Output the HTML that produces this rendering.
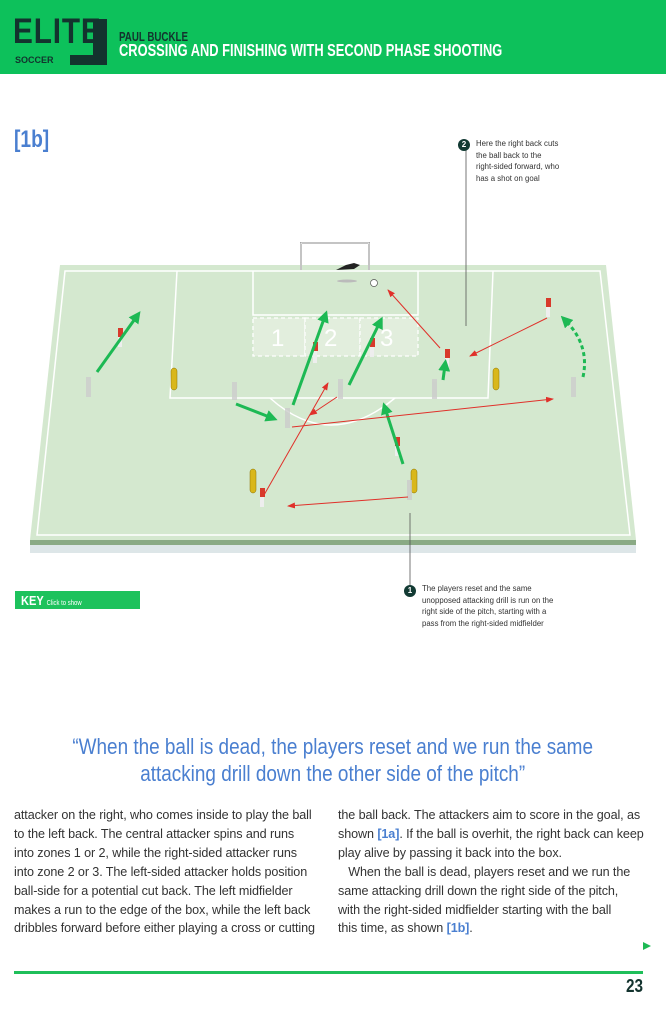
<!DOCTYPE html>
<html><head><meta charset="utf-8"><style>
*{margin:0;padding:0;box-sizing:border-box}
body{width:666px;height:1024px;background:#fff;position:relative;overflow:hidden;font-family:"Liberation Sans",sans-serif}
.hdr{position:absolute;left:0;top:0;width:666px;height:74px;background:#0dc15b}
.cond{font-family:"Liberation Sans Narrow","Liberation Sans",sans-serif;font-weight:bold}
.abs{position:absolute}
.txt{position:absolute;font-size:12.6px;line-height:18.9px;color:#333;letter-spacing:-0.1px}
.note{position:absolute;font-size:7.8px;line-height:11.6px;color:#333}
.num{position:absolute;width:12px;height:12px;border-radius:50%;background:#123a33;color:#fff;font-size:8px;font-weight:bold;text-align:center;line-height:12px}
b.l{color:#4a7fd0}
</style></head><body>
<div class="hdr"></div>
<div class="abs cond" style="left:13px;top:14px;font-size:35px;line-height:36px;color:#13332e;letter-spacing:1px;transform:scaleX(0.85);transform-origin:left">ELITE</div>
<div class="abs" style="left:93px;top:19px;width:14px;height:46px;background:#13332e"></div>
<div class="abs" style="left:70px;top:55px;width:37px;height:10px;background:#13332e"></div>
<div class="abs" style="left:15px;top:55px;font-size:9px;font-weight:bold;color:#13332e">SOCCER</div>
<div class="abs cond" style="left:119px;top:29px;font-size:13px;color:#13332e;transform:scaleX(0.75);transform-origin:left">PAUL BUCKLE</div>
<div class="abs cond" style="left:119px;top:40px;font-size:17.5px;color:#fff;transform:scaleX(0.735);transform-origin:left;white-space:nowrap">CROSSING AND FINISHING WITH SECOND PHASE SHOOTING</div>

<div class="abs cond" style="left:14px;top:126px;font-size:24px;color:#4a7fd0;transform:scaleX(0.8);transform-origin:left">[1b]</div>

<svg class="abs" style="left:0;top:0" width="666" height="1024">
<polygon points="60,265 606,265 636,540 30,540" fill="#d4e8cf"/>
<rect x="30" y="540" width="606" height="5" fill="#8aaa85"/>
<rect x="30" y="545" width="606" height="8" fill="#dde6e8"/>
<g fill="none" stroke="#fff" stroke-width="1.5">
<polygon points="65,271 600,271 630,535 37,535"/>
<polyline points="177,271 170,398 488,398 493,271"/>
<polyline points="253,271 253,315 418,315 418,271"/>
<path d="M270,398 Q330,452 395,398"/>
</g>
<g fill="#e2eedd" stroke="#fff" stroke-width="1.3" stroke-dasharray="4,3">
<rect x="253" y="318" width="52" height="38"/><rect x="305" y="318" width="55" height="38"/><rect x="360" y="318" width="58" height="38"/>
</g>
<g fill="#fff" font-size="24" font-family="Liberation Sans Narrow,Liberation Sans,sans-serif"><text x="271" y="346">1</text><text x="324" y="346">2</text><text x="380" y="346">3</text></g>
<path d="M301,270 V243 H369 V270" fill="none" stroke="#888" stroke-width="2"/>
<path d="M301,270 V243 H369 V270" fill="none" stroke="#fff" stroke-width="1"/>
<circle cx="374" cy="283" r="3.5" fill="#fff" stroke="#555" stroke-width="0.7"/>
<path d="M336,270 l10,-5 l8,-2 l6,2 l-6,4z" fill="#222"/>
<ellipse cx="347" cy="281" rx="10" ry="1.5" fill="#bbb"/>
<g fill="#d9b71a" stroke="#8a7000" stroke-width="0.5">
<rect x="171" y="368" width="6" height="22" rx="3"/><rect x="493" y="368" width="6" height="22" rx="3"/>
<rect x="250" y="469" width="6" height="24" rx="3"/><rect x="411" y="469" width="6" height="24" rx="3"/>
</g>
<g fill="#d8392b">
<rect x="118" y="328" width="5" height="9"/><rect x="313" y="342" width="5" height="9"/><rect x="370" y="338" width="5" height="9"/>
<rect x="445" y="349" width="5" height="9"/><rect x="546" y="298" width="5" height="9"/><rect x="395" y="437" width="5" height="9"/><rect x="260" y="488" width="5" height="9"/>
</g>
<g fill="#ccc" opacity=".8">
<rect x="86" y="377" width="5" height="20"/><rect x="232" y="382" width="5" height="18"/><rect x="338" y="379" width="5" height="20"/>
<rect x="432" y="379" width="5" height="20"/><rect x="571" y="377" width="5" height="20"/><rect x="285" y="408" width="5" height="20"/><rect x="407" y="480" width="5" height="20"/>
</g>
<g fill="#eee"><rect x="118" y="337" width="4" height="10"/><rect x="313" y="351" width="4" height="12"/><rect x="370" y="347" width="4" height="10"/><rect x="445" y="358" width="4" height="10"/><rect x="546" y="307" width="4" height="10"/><rect x="395" y="446" width="4" height="10"/><rect x="260" y="497" width="4" height="10"/></g>
<defs>
<marker id="g" markerWidth="4" markerHeight="4" refX="2" refY="2" orient="auto"><path d="M0,0 L4,2 L0,4z" fill="#1db954"/></marker>
<marker id="r" markerWidth="8" markerHeight="6" refX="7" refY="3" orient="auto" markerUnits="userSpaceOnUse"><path d="M0,0 L8,3 L0,6z" fill="#e0302a"/></marker>
</defs>
<g stroke="#1db954" stroke-width="3" fill="none" marker-end="url(#g)">
<line x1="97" y1="372" x2="137" y2="316"/><line x1="236" y1="404" x2="272" y2="418"/>
<line x1="293" y1="405" x2="325" y2="316"/><line x1="349" y1="385" x2="380" y2="322"/>
<line x1="403" y1="464" x2="385" y2="408"/><line x1="443" y1="380" x2="445" y2="365"/>
<path d="M583,377 Q590,345 565,320" stroke-dasharray="4,3"/>
</g>
<g stroke="#e0302a" stroke-width="1" fill="none" marker-end="url(#r)">
<line x1="440" y1="348" x2="388" y2="290"/><line x1="547" y1="318" x2="470" y2="356"/>
<line x1="292" y1="427" x2="553" y2="399"/><line x1="337" y1="397" x2="310" y2="415"/>
<line x1="264" y1="495" x2="328" y2="383"/><line x1="408" y1="497" x2="288" y2="506"/>
</g>
<line x1="466" y1="150" x2="466" y2="326" stroke="#555" stroke-width="0.8"/>
<line x1="410" y1="513" x2="410" y2="590" stroke="#555" stroke-width="0.8"/>
<rect x="14" y="971" width="629" height="3" fill="#1fbf5a"/>
<path d="M643,942 l8,4 l-8,4z" fill="#1db954"/>
</svg>

<div class="num" style="left:458px;top:139px">2</div>
<div class="note" style="left:476px;top:138px">Here the right back cuts<br>the ball back to the<br>right-sided forward, who<br>has a shot on goal</div>
<div class="num" style="left:404px;top:585px">1</div>
<div class="note" style="left:422px;top:583px">The players reset and the same<br>unopposed attacking drill is run on the<br>right side of the pitch, starting with a<br>pass from the right-sided midfielder</div>

<div class="abs" style="left:15px;top:591px;width:125px;height:18px;background:#1dc25c"></div>
<div class="abs cond" style="left:21px;top:593px;font-size:13px;color:#fff;transform:scaleX(0.85);transform-origin:left">KEY <span style="font-size:7px;font-weight:normal">Click to show</span></div>

<div class="abs" style="left:0;top:733px;width:666px;text-align:center;font-family:'Liberation Sans Narrow','Liberation Sans',sans-serif;font-size:22px;line-height:27px;color:#4a7fd0">
<span style="display:inline-block;transform:scaleX(0.86)">“When the ball is dead, the players reset and we run the same<br>attacking drill down the other side of the pitch”</span></div>

<div class="txt" style="left:14px;top:806px;width:310px">attacker on the right, who comes inside to play the ball<br>to the left back. The central attacker spins and runs<br>into zones 1 or 2, while the right-sided attacker runs<br>into zone 2 or 3. The left-sided attacker holds position<br>ball-side for a potential cut back. The left midfielder<br>makes a run to the edge of the box, while the left back<br>dribbles forward before either playing a cross or cutting</div>
<div class="txt" style="left:338px;top:806px;width:320px">the ball back. The attackers aim to score in the goal, as<br>shown <b class="l">[1a]</b>. If the ball is overhit, the right back can keep<br>play alive by passing it back into the box.<br>&nbsp;&nbsp;&nbsp;When the ball is dead, players reset and we run the<br>same attacking drill down the right side of the pitch,<br>with the right-sided midfielder starting with the ball<br>this time, as shown <b class="l">[1b]</b>.</div>

<div class="abs cond" style="left:626px;top:976px;font-size:18px;color:#13332e;transform:scaleX(0.85);transform-origin:left">23</div>
</body></html>
